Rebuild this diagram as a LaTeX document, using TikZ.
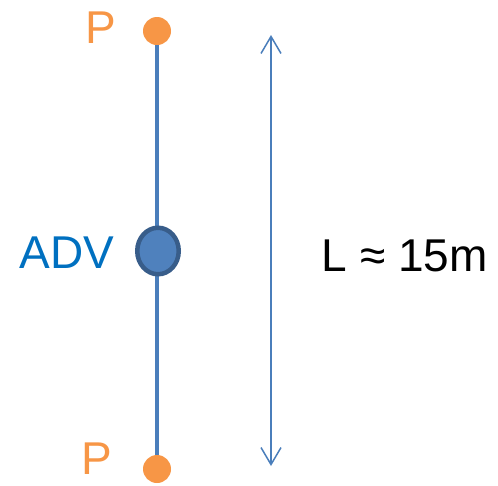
\documentclass[tikz,border=0pt]{standalone}
\usepackage{fontspec}
\setmainfont{Liberation Sans}
\usetikzlibrary{arrows.meta,shapes.geometric}
\definecolor{rodblue}{HTML}{4A7EBB}
\definecolor{advfill}{HTML}{4F81BD}
\definecolor{advline}{HTML}{385D8A}
\definecolor{advtext}{HTML}{0070C0}
\definecolor{porange}{HTML}{F79646}
\tikzset{
  pdot/.style={circle,fill=porange,minimum size=28pt,inner sep=0pt},
  biglabel/.style={inner sep=0pt,anchor=base,font=\fontsize{46}{50}\selectfont}
}
\begin{document}
\begin{tikzpicture}[x=1pt,y=-1pt]
\useasboundingbox (0,0) rectangle (498,485);
\node[pdot] (ptop) at (157,31) {};
\node[pdot] (pbot) at (157,469) {};
\draw[rodblue,line width=3.5pt] (ptop) -- (pbot);
\node[ellipse,fill=advfill,draw=advline,line width=4.5pt,minimum width=41.5pt,minimum height=46.5pt,inner sep=0pt] (adv) at (158,251) {};
\node[biglabel,porange] (ltop) at (101,43) {P};
\node[biglabel,porange] (lbot) at (97,474) {P};
\node[biglabel,advtext] (ladv) at (67,268) {ADV};
\coordinate (atop) at (271,35);
\coordinate (abot) at (271,466);
\draw[rodblue,line width=1.5pt,{Straight Barb[length=17pt,width=20pt]}-{Straight Barb[length=17pt,width=20pt]}] (atop) -- (abot);
\node[biglabel,black,anchor=base west] (llen) at (321.5,271) {L ≈ 15m};
\end{tikzpicture}
\end{document}
